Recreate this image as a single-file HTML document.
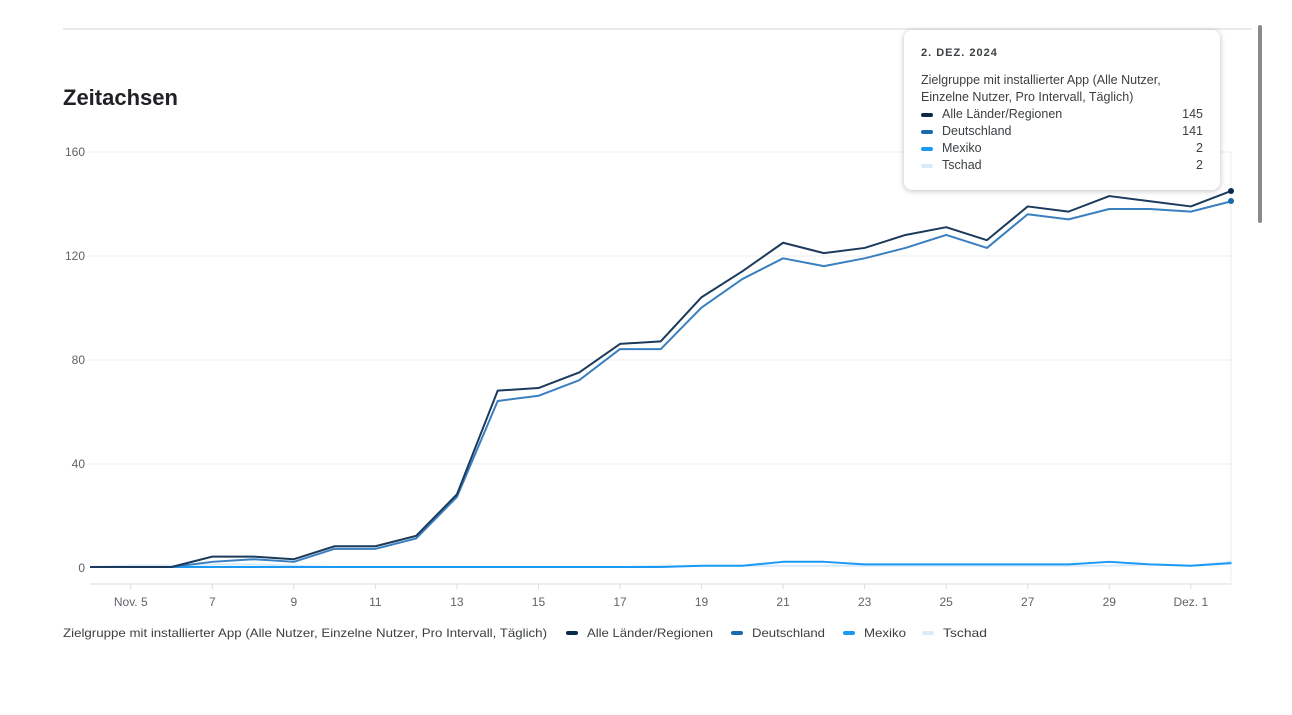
<!DOCTYPE html>
<html><head><meta charset="utf-8"><style>
body{margin:0;width:1292px;height:715px;background:#fff;font-family:"Liberation Sans",sans-serif;overflow:hidden;position:relative}
svg{position:absolute;left:0;top:0}
.tip{position:absolute;left:904px;top:30px;width:316px;height:160px;background:#fff;border-radius:8px;box-shadow:0 1px 6px rgba(0,0,0,.25);font-size:12.5px;color:#3c4043}
.tip .d{position:absolute;left:17px;top:17px;font-size:11px;font-weight:bold;letter-spacing:1px;color:#3c4043}
.tip .t{position:absolute;left:17px;top:42px;line-height:17px}
.row{position:absolute;left:17px;width:282px;height:17px;line-height:17px}
.row i{position:absolute;left:0;top:7px;width:12px;height:4px;border-radius:2px}
.row span{position:absolute;left:21px}
.row b{position:absolute;right:0;font-weight:normal}
</style></head><body>
<svg width="1292" height="715" id="s" font-family="Liberation Sans, sans-serif">
<line x1="63" y1="29" x2="1252" y2="29" stroke="#e3e3e3" stroke-width="1.5"/>
<rect x="1258" y="25" width="4" height="198" rx="2" fill="#8a8a8a"/>
<text x="63" y="105" font-size="22" font-weight="bold" fill="#202124">Zeitachsen</text>
<g stroke="#ececec" stroke-width="1">
<line x1="90" y1="152" x2="1231" y2="152"/><line x1="90" y1="256" x2="1231" y2="256"/>
<line x1="90" y1="360" x2="1231" y2="360"/><line x1="90" y1="464" x2="1231" y2="464"/>
<line x1="90" y1="584" x2="1231" y2="584" stroke="#dadce0"/><line x1="1231" y1="152" x2="1231" y2="584"/>
</g>
<g font-size="12" fill="#5f6368" text-anchor="end">
<text x="85" y="156">160</text><text x="85" y="260">120</text><text x="85" y="364">80</text><text x="85" y="468">40</text><text x="85" y="572">0</text>
</g>
<g font-size="12" fill="#5f6368" text-anchor="middle" id="xl"></g>
<g id="lines" fill="none" stroke-width="2" stroke-linejoin="round"></g>
<circle cx="1231" cy="191" r="3" fill="#0d2a4a"/><circle cx="1231" cy="201" r="3" fill="#1a6aae"/>
<g font-size="12" fill="#3c4043">
<text x="63" y="637" textLength="484" lengthAdjust="spacingAndGlyphs">Zielgruppe mit installierter App (Alle Nutzer, Einzelne Nutzer, Pro Intervall, Täglich)</text>
<rect x="566" y="631" width="12" height="4" rx="2" fill="#0d2a4a"/><text x="587" y="637" textLength="126" lengthAdjust="spacingAndGlyphs">Alle Länder/Regionen</text>
<rect x="731" y="631" width="12" height="4" rx="2" fill="#1a6aae"/><text x="752" y="637" textLength="73" lengthAdjust="spacingAndGlyphs">Deutschland</text>
<rect x="843" y="631" width="12" height="4" rx="2" fill="#1a9af5"/><text x="864" y="637" textLength="42" lengthAdjust="spacingAndGlyphs">Mexiko</text>
<rect x="922" y="631" width="12" height="4" rx="2" fill="#d8ebfb"/><text x="943" y="637" textLength="44" lengthAdjust="spacingAndGlyphs">Tschad</text>
</g>
</svg>
<div class="tip"><div class="d">2. DEZ. 2024</div>
<div class="t">Zielgruppe mit installierter App (Alle Nutzer,<br>Einzelne Nutzer, Pro Intervall, Täglich)</div>
<div class="row" style="top:76px"><i style="background:#0d2a4a"></i><span>Alle Länder/Regionen</span><b>145</b></div>
<div class="row" style="top:93px"><i style="background:#1a6aae"></i><span>Deutschland</span><b>141</b></div>
<div class="row" style="top:110px"><i style="background:#1a9af5"></i><span>Mexiko</span><b>2</b></div>
<div class="row" style="top:127px"><i style="background:#d8ebfb"></i><span>Tschad</span><b>2</b></div>
</div>
<script>
var X=function(i){return 90+i*40.77},Y=function(v){return 567-v*2.594};
var A=[0,0,0,4,4,3,8,8,12,28,68,69,75,86,87,104,114,125,121,123,128,131,126,139,137,143,141,139,145];
var D=[0,0,0,2,3,2,7,7,11,27,64,66,72,84,84,100,111,119,116,119,123,128,123,136,134,138,138,137,141];
var M=[0,0,0,0,0,0,0,0,0,0,0,0,0,0,0,0.5,0.5,2,2,1,1,1,1,1,1,2,1,0.5,1.5];
var T=[0,0.5,0.5,1,1,0.5,0,0,0,0,0,0,0,0,0.5,0.5,0.5,0.5,0.5,0.5,0.5,0.5,0.5,0.5,0.5,0.5,1,0.5,2];
var g=document.getElementById('lines'),ns='http://www.w3.org/2000/svg';
[[T,'#d8ebfb'],[M,'#1a9af5'],[D,'#3a7fc0'],[A,'#1b3a5c']].forEach(function(s){
var p=document.createElementNS(ns,'polyline');p.setAttribute('points',s[0].map(function(v,i){return X(i)+','+Y(v)}).join(' '));p.setAttribute('stroke',s[1]);g.appendChild(p);});
var xl=document.getElementById('xl'),lab={1:'Nov. 5',27:'Dez. 1'};
for(var i=1;i<28;i+=2){var t=document.createElementNS(ns,'text');t.setAttribute('x',X(i));t.setAttribute('y',606);t.textContent=lab[i]||(i+4);xl.appendChild(t);
var l=document.createElementNS(ns,'line');l.setAttribute('x1',X(i));l.setAttribute('x2',X(i));l.setAttribute('y1',584);l.setAttribute('y2',589);l.setAttribute('stroke','#dadce0');xl.appendChild(l);}
</script>
</body></html>
